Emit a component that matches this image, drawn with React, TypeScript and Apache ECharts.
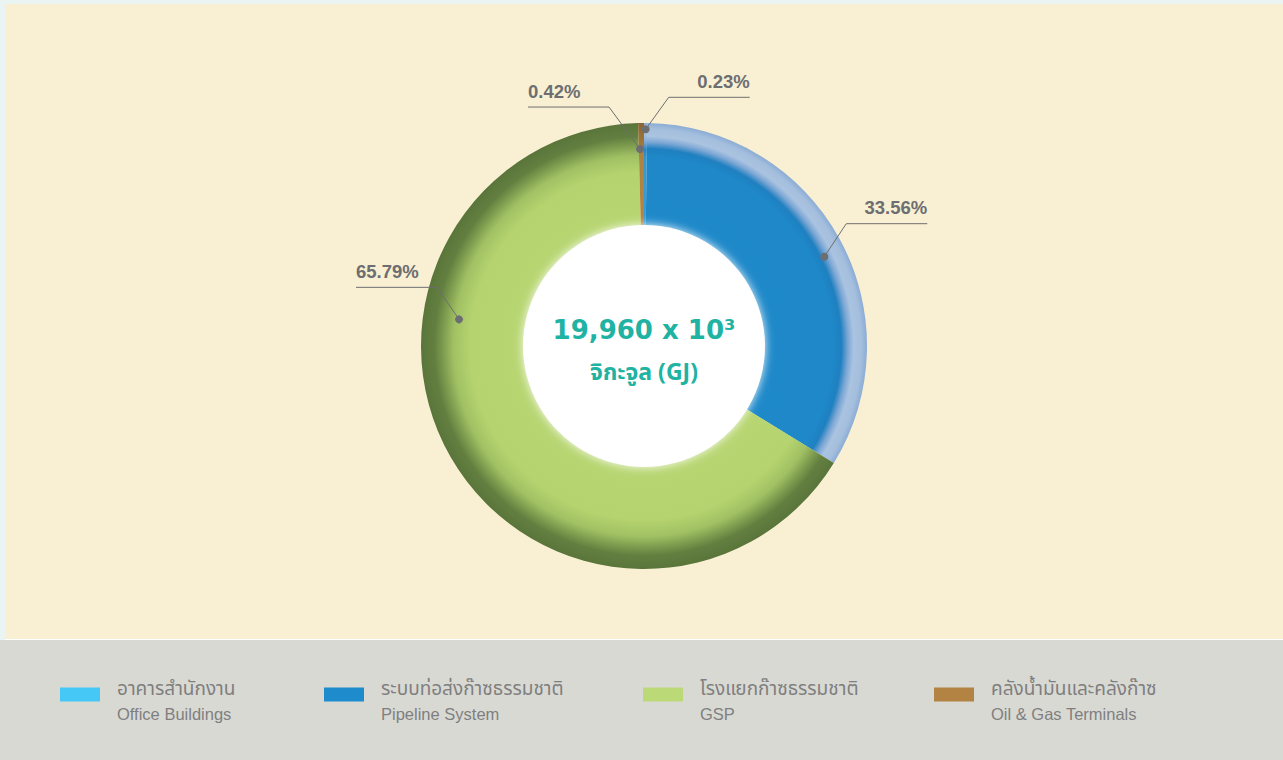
import React, { useEffect, useRef } from "react";
import * as echarts from "echarts";

// ---- data ----
const categoriesTh = ["อาคารสำนักงาน", "ระบบท่อส่งก๊าซธรรมชาติ", "โรงแยกก๊าซธรรมชาติ", "คลังน้ำมันและคลังก๊าซ"];
const categoriesEn = ["Office Buildings", "Pipeline System", "GSP", "Oil & Gas Terminals"];
const shares = [0.23, 33.56, 65.79, 0.42];
const legendColors = ["#45C8F5", "#1E8BCC", "#BCD977", "#B38343"];
const totalLabel = "19,960 x 10³";
const unitLabel = "จิกะจูล (GJ)";

// ---- layout ----
const W = 1283;
const H = 760;
const CX = 644;
const CY = 346;
const R_OUT = 223;
const R_IN = 119;
const legendLeft = [60, 324, 643, 934];
// label anchor geometry: angle (deg clockwise from top), radius of the dot, elbow offset, horizontal run
const labelGeo = [
  { angle: 0.45, r: 216.7, ex: 23, ey: -32, len: 81 },
  { angle: 63.65, r: 201.2, ex: 22, ey: -33, len: 81 },
  { angle: 278.2, r: 186.9, ex: -22, ey: -32, len: 81 },
  { angle: -1.16, r: 197, ex: -31, ey: -42, len: 81 },
];

function dotPos(i: number) {
  const g = labelGeo[i];
  const a = (g.angle * Math.PI) / 180;
  return [CX + g.r * Math.sin(a), CY - g.r * Math.cos(a)];
}

function linePts(i: number) {
  const g = labelGeo[i];
  const [dx, dy] = dotPos(i);
  const elbow = [dx + g.ex, dy + g.ey];
  const side = g.ex >= 0 ? 1 : -1;
  const end = [elbow[0] + side * g.len, elbow[1]];
  return { dot: [dx, dy], elbow, end, side };
}

function grad(stops: [number, string][]) {
  return new echarts.graphic.RadialGradient(
    CX,
    CY,
    R_OUT,
    stops.map(([offset, color]) => ({ offset, color })),
    true
  );
}

const sliceFills = [
  grad([
    [0, "#3FA6E0"],
    [0.84, "#2E9AD8"],
    [0.88, "#2486C6"],
    [0.92, "#86AEDA"],
    [0.95, "#A9C3E0"],
    [1, "#8FB0D6"],
  ]),
  grad([
    [0, "#1E8ACB"],
    [0.85, "#1E88C8"],
    [0.885, "#1F80C0"],
    [0.915, "#7DA7D5"],
    [0.94, "#A9C3E0"],
    [0.975, "#A4BEDD"],
    [1, "#8BACD5"],
  ]),
  grad([
    [0, "#BEDB7A"],
    [0.78, "#B5D46F"],
    [0.855, "#A0C063"],
    [0.9, "#7F9D4F"],
    [0.94, "#637F40"],
    [1, "#5A753A"],
  ]),
  grad([
    [0, "#B88A48"],
    [0.85, "#B08242"],
    [1, "#8A6532"],
  ]),
];

export default function App() {
  const ref = useRef<HTMLDivElement>(null);
  useEffect(() => {
    if (!ref.current) return;
    const chart = echarts.init(ref.current, null, { renderer: "svg" });
    const labelFont = "'Liberation Sans', Arial, Helvetica, sans-serif";
    const thaiFont = "'Noto Sans Thai', 'Noto Sans Thai Looped', Loma, Garuda, 'Liberation Sans', 'DejaVu Sans', sans-serif";

    const leaders: any[] = [];
    labelGeo.forEach((_, i) => {
      const p = linePts(i);
      leaders.push({
        type: "polyline",
        z: 19,
        shape: { points: [p.dot, p.elbow, p.end] },
        style: { stroke: "#6D6E71", lineWidth: 1, fill: null },
      });
      leaders.push({
        type: "circle",
        z: 20,
        shape: { cx: p.dot[0], cy: p.dot[1], r: 4 },
        style: { fill: "#6D6E71" },
      });
    });

    chart.setOption({
      animation: false,
      backgroundColor: "#EAF5F3",
      graphic: [
        { type: "rect", z: -10, shape: { x: 5, y: 4, width: W - 5, height: 635 }, style: { fill: "#F9F0D3" } },
        { type: "rect", z: -10, shape: { x: 5, y: 639, width: W - 5, height: 1 }, style: { fill: "#FFFFFF" } },
        { type: "rect", z: -10, shape: { x: 0, y: 640, width: W, height: H - 640 }, style: { fill: "#D9D9D4" } },
        {
          type: "circle",
          z: 10,
          shape: { cx: CX, cy: CY, r: 121 },
          style: { fill: "#FFFFFF", shadowBlur: 10, shadowColor: "rgba(255,255,255,0.95)" },
        },
        {
          type: "text",
          z: 12,
          style: {
            text: totalLabel,
            x: CX,
            y: 330,
            align: "center",
            verticalAlign: "middle",
            fontSize: 26,
            fontWeight: "bold",
            fontFamily: "'DejaVu Sans', sans-serif",
            fill: "#20B2A2",
          },
        },
        {
          type: "text",
          z: 12,
          style: {
            text: unitLabel,
            x: CX,
            y: 373,
            align: "center",
            verticalAlign: "middle",
            fontSize: 23,
            fontWeight: "bold",
            fontFamily: thaiFont,
            fill: "#20B2A2",
          },
        },
        ...leaders,
      ],
      legend: categoriesEn.map((en, i) => ({
        left: legendLeft[i],
        top: 680,
        padding: 0,
        orient: "horizontal",
        icon: "rect",
        itemWidth: 40,
        itemHeight: 14,
        selectedMode: false,
        data: [{ name: en, itemStyle: { color: legendColors[i] } }],
        formatter: () => `{t|${categoriesTh[i]}}\n{e|${en}}`,
        textStyle: {
          padding: [14, 0, 0, 12],
          rich: {
            t: { fontSize: 19, lineHeight: 24, color: "#7F7F7F", fontFamily: thaiFont },
            e: { fontSize: 16.5, lineHeight: 24, color: "#7F7F7F", fontFamily: labelFont },
          },
        },
      })),
      series: [
        {
          type: "pie",
          center: [CX, CY],
          radius: [R_IN, R_OUT],
          startAngle: 90,
          clockwise: true,
          avoidLabelOverlap: false,
          data: categoriesEn.map((name, i) => ({
            name,
            value: shares[i],
            itemStyle: { color: sliceFills[i] },
          })),
          label: {
            show: true,
            formatter: (p: any) => `${Number(p.value).toFixed(2)}%`,
            color: "#6D6E71",
            fontSize: 18.5,
            fontWeight: "bold",
            fontFamily: labelFont,
            lineHeight: 18,
          },
          labelLine: { show: false },
          emphasis: { disabled: true },
          labelLayout: (params: any) => {
            const p = linePts(params.dataIndex);
            return {
              x: p.end[0],
              y: p.elbow[1] - 7,
              align: p.side > 0 ? "right" : "left",
              verticalAlign: "bottom",
            };
          },
        },
      ],
    });
    return () => chart.dispose();
  }, []);
  return (
    <div
      ref={ref}
      style={{ position: "fixed", left: 0, top: 0, width: W, height: H }}
    />
  );
}
